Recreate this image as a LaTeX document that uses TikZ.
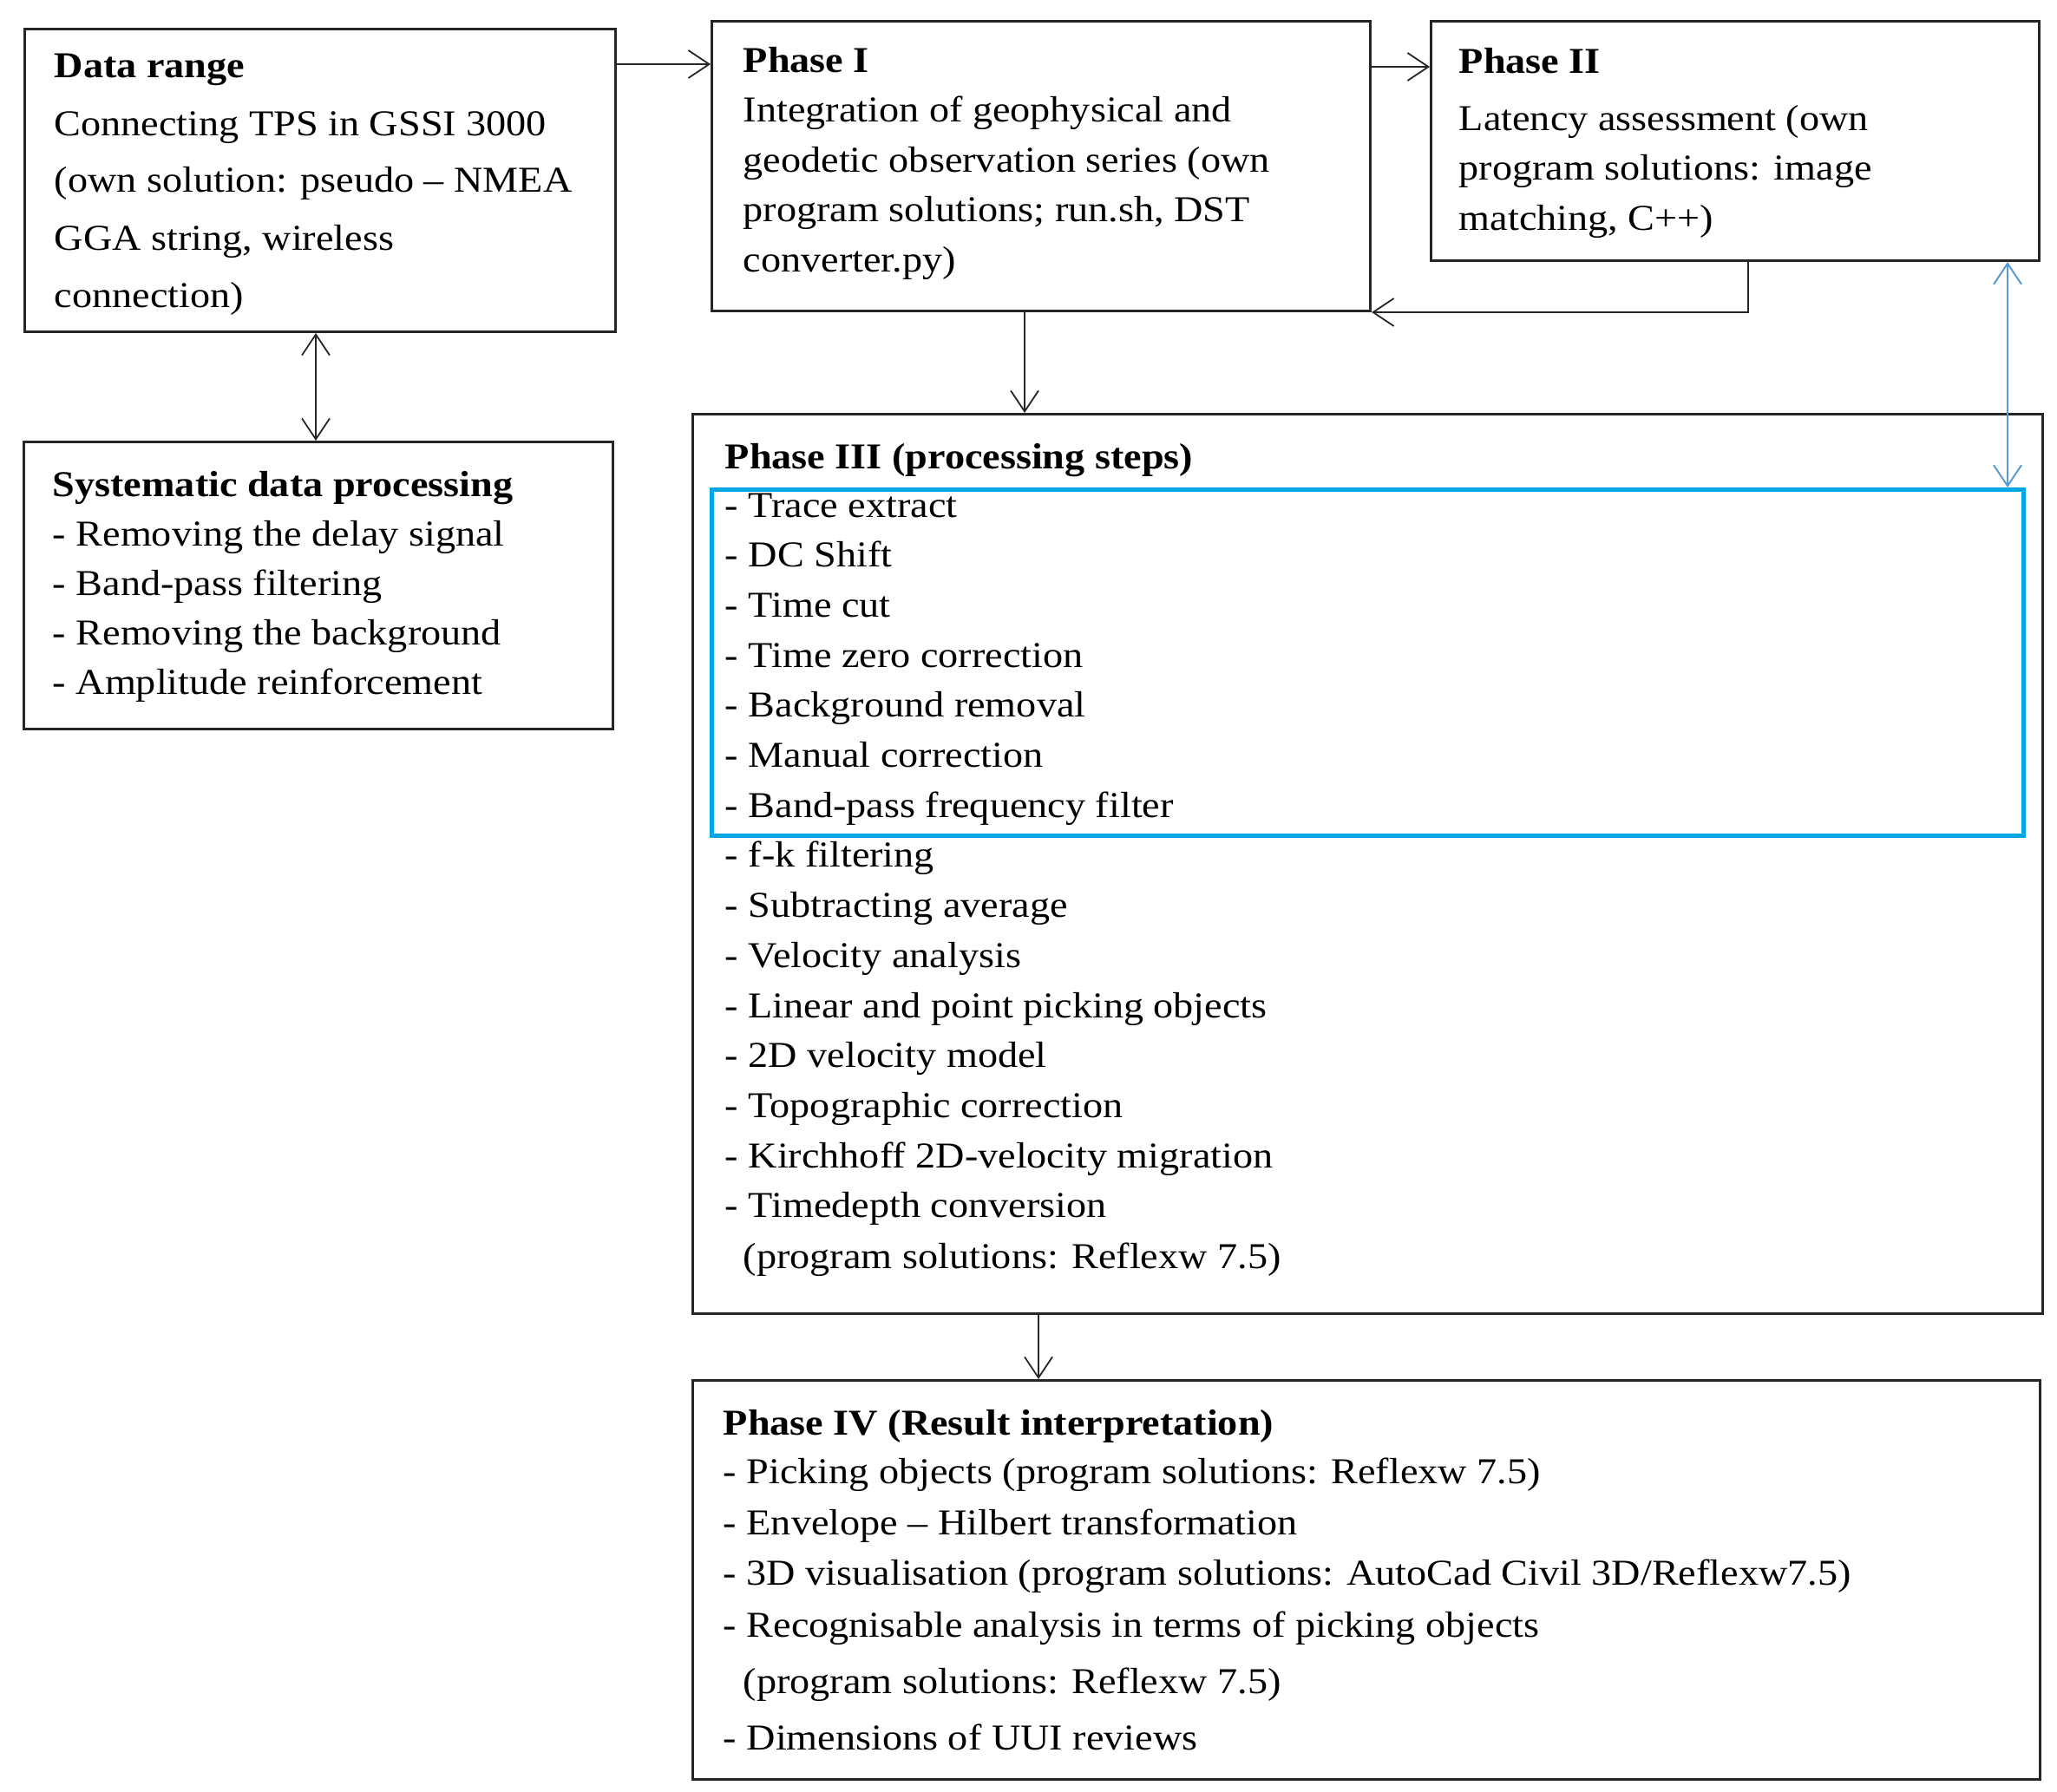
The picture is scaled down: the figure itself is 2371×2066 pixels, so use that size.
\documentclass[tikz,border=0pt]{standalone}
\usepackage{fontspec}
\setmainfont{Liberation Serif}[FakeStretch=1.1]
\usetikzlibrary{arrows.meta}
\definecolor{boxblue}{HTML}{00A6E6}
\definecolor{arrblue}{HTML}{5B9BD5}
\tikzset{
  box/.style={draw=black!85, line width=0.75pt, inner sep=0pt, fill=none},
  txt/.style={anchor=base west, inner sep=0pt, font=\fontsize{10.5}{12}\selectfont},
  ttl/.style={txt, font=\fontsize{10.5}{12}\selectfont\bfseries},
  conn/.style={draw=black!85, line width=0.45pt, -{Straight Barb[length=6pt,width=8pt]}},
  dconn/.style={draw=black!85, line width=0.45pt, {Straight Barb[length=6pt,width=8pt]}-{Straight Barb[length=6pt,width=8pt]}},
  bconn/.style={draw=arrblue, line width=0.5pt, {Straight Barb[length=6pt,width=8pt]}-{Straight Barb[length=6pt,width=8pt]}}
}
\begin{document}
\begin{tikzpicture}[x=0.25pt,y=-0.25pt]
\useasboundingbox[fill=white] (0,0) rectangle (2371,2066);
% boxes
\node[box, minimum width=681*0.25pt, minimum height=349*0.25pt, anchor=north west] (dr) at (27,32) {};
\node[box, minimum width=759*0.25pt, minimum height=334*0.25pt, anchor=north west] (p1) at (819,23) {};
\node[box, minimum width=701*0.25pt, minimum height=276*0.25pt, anchor=north west] (p2) at (1648,23) {};
\node[box, minimum width=679*0.25pt, minimum height=331*0.25pt, anchor=north west] (sd) at (26,508) {};
\node[box, minimum width=1556*0.25pt, minimum height=1037*0.25pt, anchor=north west] (p3) at (797,476) {};
\node[draw=boxblue, line width=1.2pt, inner sep=0pt, minimum width=1512*0.25pt, minimum height=399*0.25pt, anchor=north west] (bb) at (818,562) {};
\node[box, minimum width=1553*0.25pt, minimum height=460*0.25pt, anchor=north west] (p4) at (797,1590) {};

% Data range text
\node[ttl] (dr0) at (62,90) {Data range};
\node[txt] (dr1) at (62,156) {Connecting TPS in GSSI 3000};
\node[txt] (dr2) at (62,222) {(own solution: pseudo -- NMEA};
\node[txt] (dr3) at (62,288) {GGA string, wireless};
\node[txt] (dr4) at (62,354) {connection)};

% Phase I text
\node[ttl] (p10) at (856,83) {Phase I};
\node[txt] (p11) at (856,140) {Integration of geophysical and};
\node[txt] (p12) at (856,198) {geodetic observation series (own};
\node[txt] (p13) at (856,255) {program solutions; run.sh, DST};
\node[txt] (p14) at (856,313) {converter.py)};

% Phase II text
\node[ttl] (p20) at (1681,84) {Phase II};
\node[txt] (p21) at (1681,151) {Latency assessment (own};
\node[txt] (p22) at (1681,208) {program solutions: image};
\node[txt] (p23) at (1681,265) {matching, C++)};

% Systematic data processing
\node[ttl] (sd0) at (60,572) {Systematic data processing};
\node[txt] (sd1) at (60,629) {- Removing the delay signal};
\node[txt] (sd2) at (60,686) {- Band-pass filtering};
\node[txt] (sd3) at (60,743) {- Removing the background};
\node[txt] (sd4) at (60,800) {- Amplitude reinforcement};

% Phase III
\node[ttl] (p30) at (835,540) {Phase III (processing steps)};
\foreach \t [count=\i from 0] in {
  {- Trace extract},{- DC Shift},{- Time cut},{- Time zero correction},
  {- Background removal},{- Manual correction},{- Band-pass frequency filter},
  {- f-k filtering},{- Subtracting average},{- Velocity analysis},
  {- Linear and point picking objects},{- 2D velocity model},
  {- Topographic correction},{- Kirchhoff 2D-velocity migration},
  {- Timedepth conversion}}
  \node[txt] (p3l\i) at (835,596+57.7*\i) {\t};
\node[txt] (p3l15) at (856,1462) {(program solutions: Reflexw 7.5)};

% Phase IV
\node[ttl] (p40) at (833,1654) {Phase IV (Result interpretation)};
\node[txt] (p41) at (833,1710) {- Picking objects (program solutions: Reflexw 7.5)};
\node[txt] (p42) at (833,1769) {- Envelope -- Hilbert transformation};
\node[txt] (p43) at (833,1827) {- 3D visualisation (program solutions: AutoCad Civil 3D/Reflexw7.5)};
\node[txt] (p44) at (833,1887) {- Recognisable analysis in terms of picking objects};
\node[txt] (p45) at (856,1952) {(program solutions: Reflexw 7.5)};
\node[txt] (p46) at (833,2017) {- Dimensions of UUI reviews};

% connectors
\draw[conn] (dr.east |- 0,74) -- (p1.west |- 0,74);
\draw[conn] (p1.east |- 0,77) -- (p2.west |- 0,77);
\coordinate (r1) at (2015,299);
\draw[conn] (r1) |- (p1.south east);
\draw[conn] (p1.south -| 1181,0) -- (p3.north -| 1181,0);
\draw[conn] (p3.south -| 1197,0) -- (p4.north -| 1197,0);
\draw[dconn] (dr.south -| 364,0) -- (sd.north -| 364,0);
\draw[bconn] (p2.south -| 2314,0) -- (bb.north -| 2314,0);
\end{tikzpicture}
\end{document}
